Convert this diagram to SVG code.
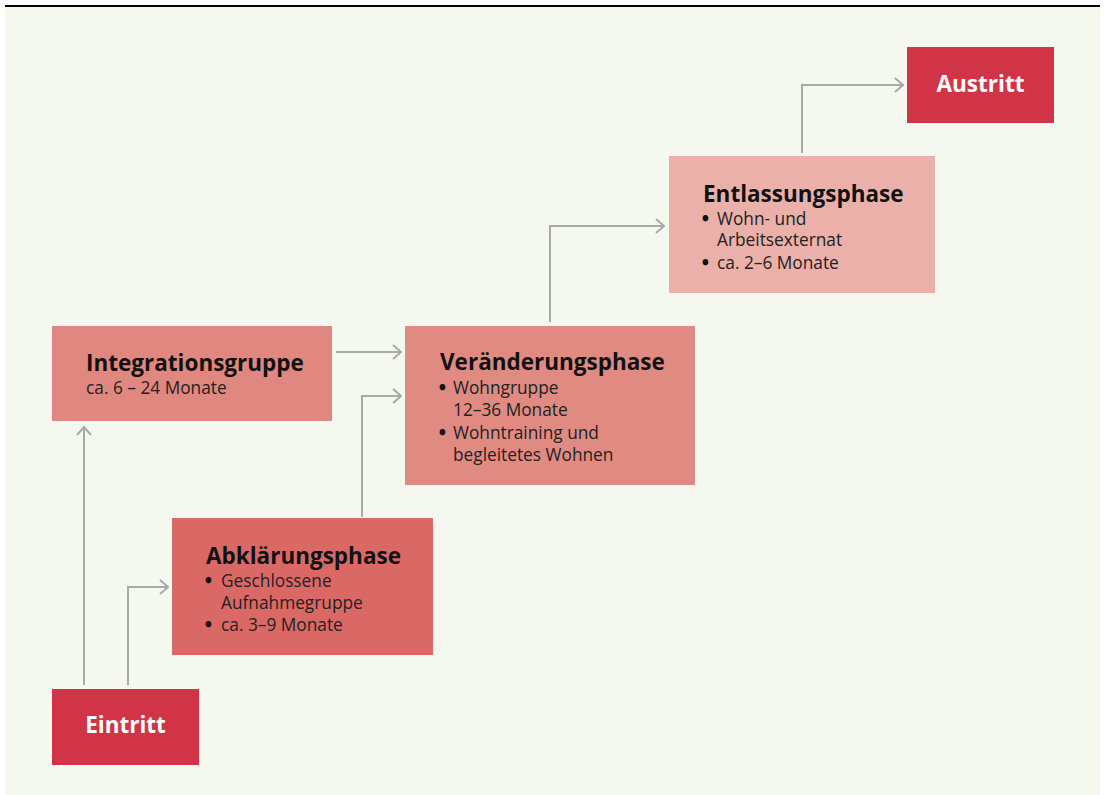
<svg xmlns="http://www.w3.org/2000/svg" width="1105" height="795" viewBox="0 0 1105 795">
<style>
.t{font-family:"Open Sans","Noto Sans","Liberation Sans",sans-serif;font-weight:700;font-size:22.5px;fill:#111}
.s{font-family:"Open Sans","Noto Sans","Liberation Sans",sans-serif;font-size:17.3px;fill:#222}
.b{font-family:"Open Sans","Noto Sans","Liberation Sans",sans-serif;font-size:17.3px;font-weight:800;fill:#111}
.w{font-family:"Open Sans","Noto Sans","Liberation Sans",sans-serif;font-weight:700;font-size:22.5px;fill:#fff;text-anchor:middle}
.c{fill:none;stroke:#a9a9a9;stroke-width:2;marker-end:url(#ah)}
</style>
<defs>
<marker id="ah" viewBox="0 0 10 16" refX="9" refY="8" markerWidth="10" markerHeight="16" markerUnits="userSpaceOnUse" orient="auto">
<path d="M1,1 L9,8 L1,15" fill="none" stroke="#a9a9a9" stroke-width="2"/>
</marker>
</defs>
<rect x="0" y="0" width="1105" height="795" fill="#ffffff"/>
<rect x="5" y="7" width="1095" height="788" fill="#f5f8ee"/>
<line x1="5" y1="6" x2="1100" y2="6" stroke="#000" stroke-width="2"/>
<g id="connectors">
<path class="c" d="M84,685 V427"/>
<path class="c" d="M128,685 V587 H168"/>
<path class="c" d="M336,352 H401"/>
<path class="c" d="M362,517 V396 H401"/>
<path class="c" d="M550,322 V226 H664"/>
<path class="c" d="M802,153 V85 H903"/>
</g>
<g id="eintritt">
<rect x="52" y="689" width="147" height="76" fill="#d13446"/>
<text class="w" x="125.5" y="733">Eintritt</text>
</g>
<g id="integrationsgruppe">
<rect x="52" y="326" width="280" height="95" fill="#e0877f"/>
<text class="t" x="86" y="371">Integrationsgruppe</text>
<text class="s" x="86" y="394">ca. 6 – 24 Monate</text>
</g>
<g id="abklaerungsphase">
<rect x="172" y="518" width="261" height="137" fill="#da6966"/>
<text class="t" x="206" y="564">Abklärungsphase</text>
<text class="b" x="205" y="587">•</text><text class="s" x="221" y="587">Geschlossene</text>
<text class="s" x="221" y="609">Aufnahmegruppe</text>
<text class="b" x="205" y="631">•</text><text class="s" x="221" y="631">ca. 3–9 Monate</text>
</g>
<g id="veraenderungsphase">
<rect x="405" y="326" width="290" height="159" fill="#e08a81"/>
<text class="t" x="440" y="370">Veränderungsphase</text>
<text class="b" x="439" y="394">•</text><text class="s" x="453" y="394">Wohngruppe</text>
<text class="s" x="453" y="416">12–36 Monate</text>
<text class="b" x="439" y="439">•</text><text class="s" x="453" y="439">Wohntraining und</text>
<text class="s" x="453" y="461">begleitetes Wohnen</text>
</g>
<g id="entlassungsphase">
<rect x="669" y="156" width="266" height="137" fill="#ebb0a9"/>
<text class="t" x="703" y="202">Entlassungsphase</text>
<text class="b" x="702" y="225">•</text><text class="s" x="717" y="225">Wohn- und</text>
<text class="s" x="717" y="246">Arbeitsexternat</text>
<text class="b" x="702" y="269">•</text><text class="s" x="717" y="269">ca. 2–6 Monate</text>
</g>
<g id="austritt">
<rect x="907" y="47" width="147" height="76" fill="#d13446"/>
<text class="w" x="980.5" y="92">Austritt</text>
</g>
</svg>
